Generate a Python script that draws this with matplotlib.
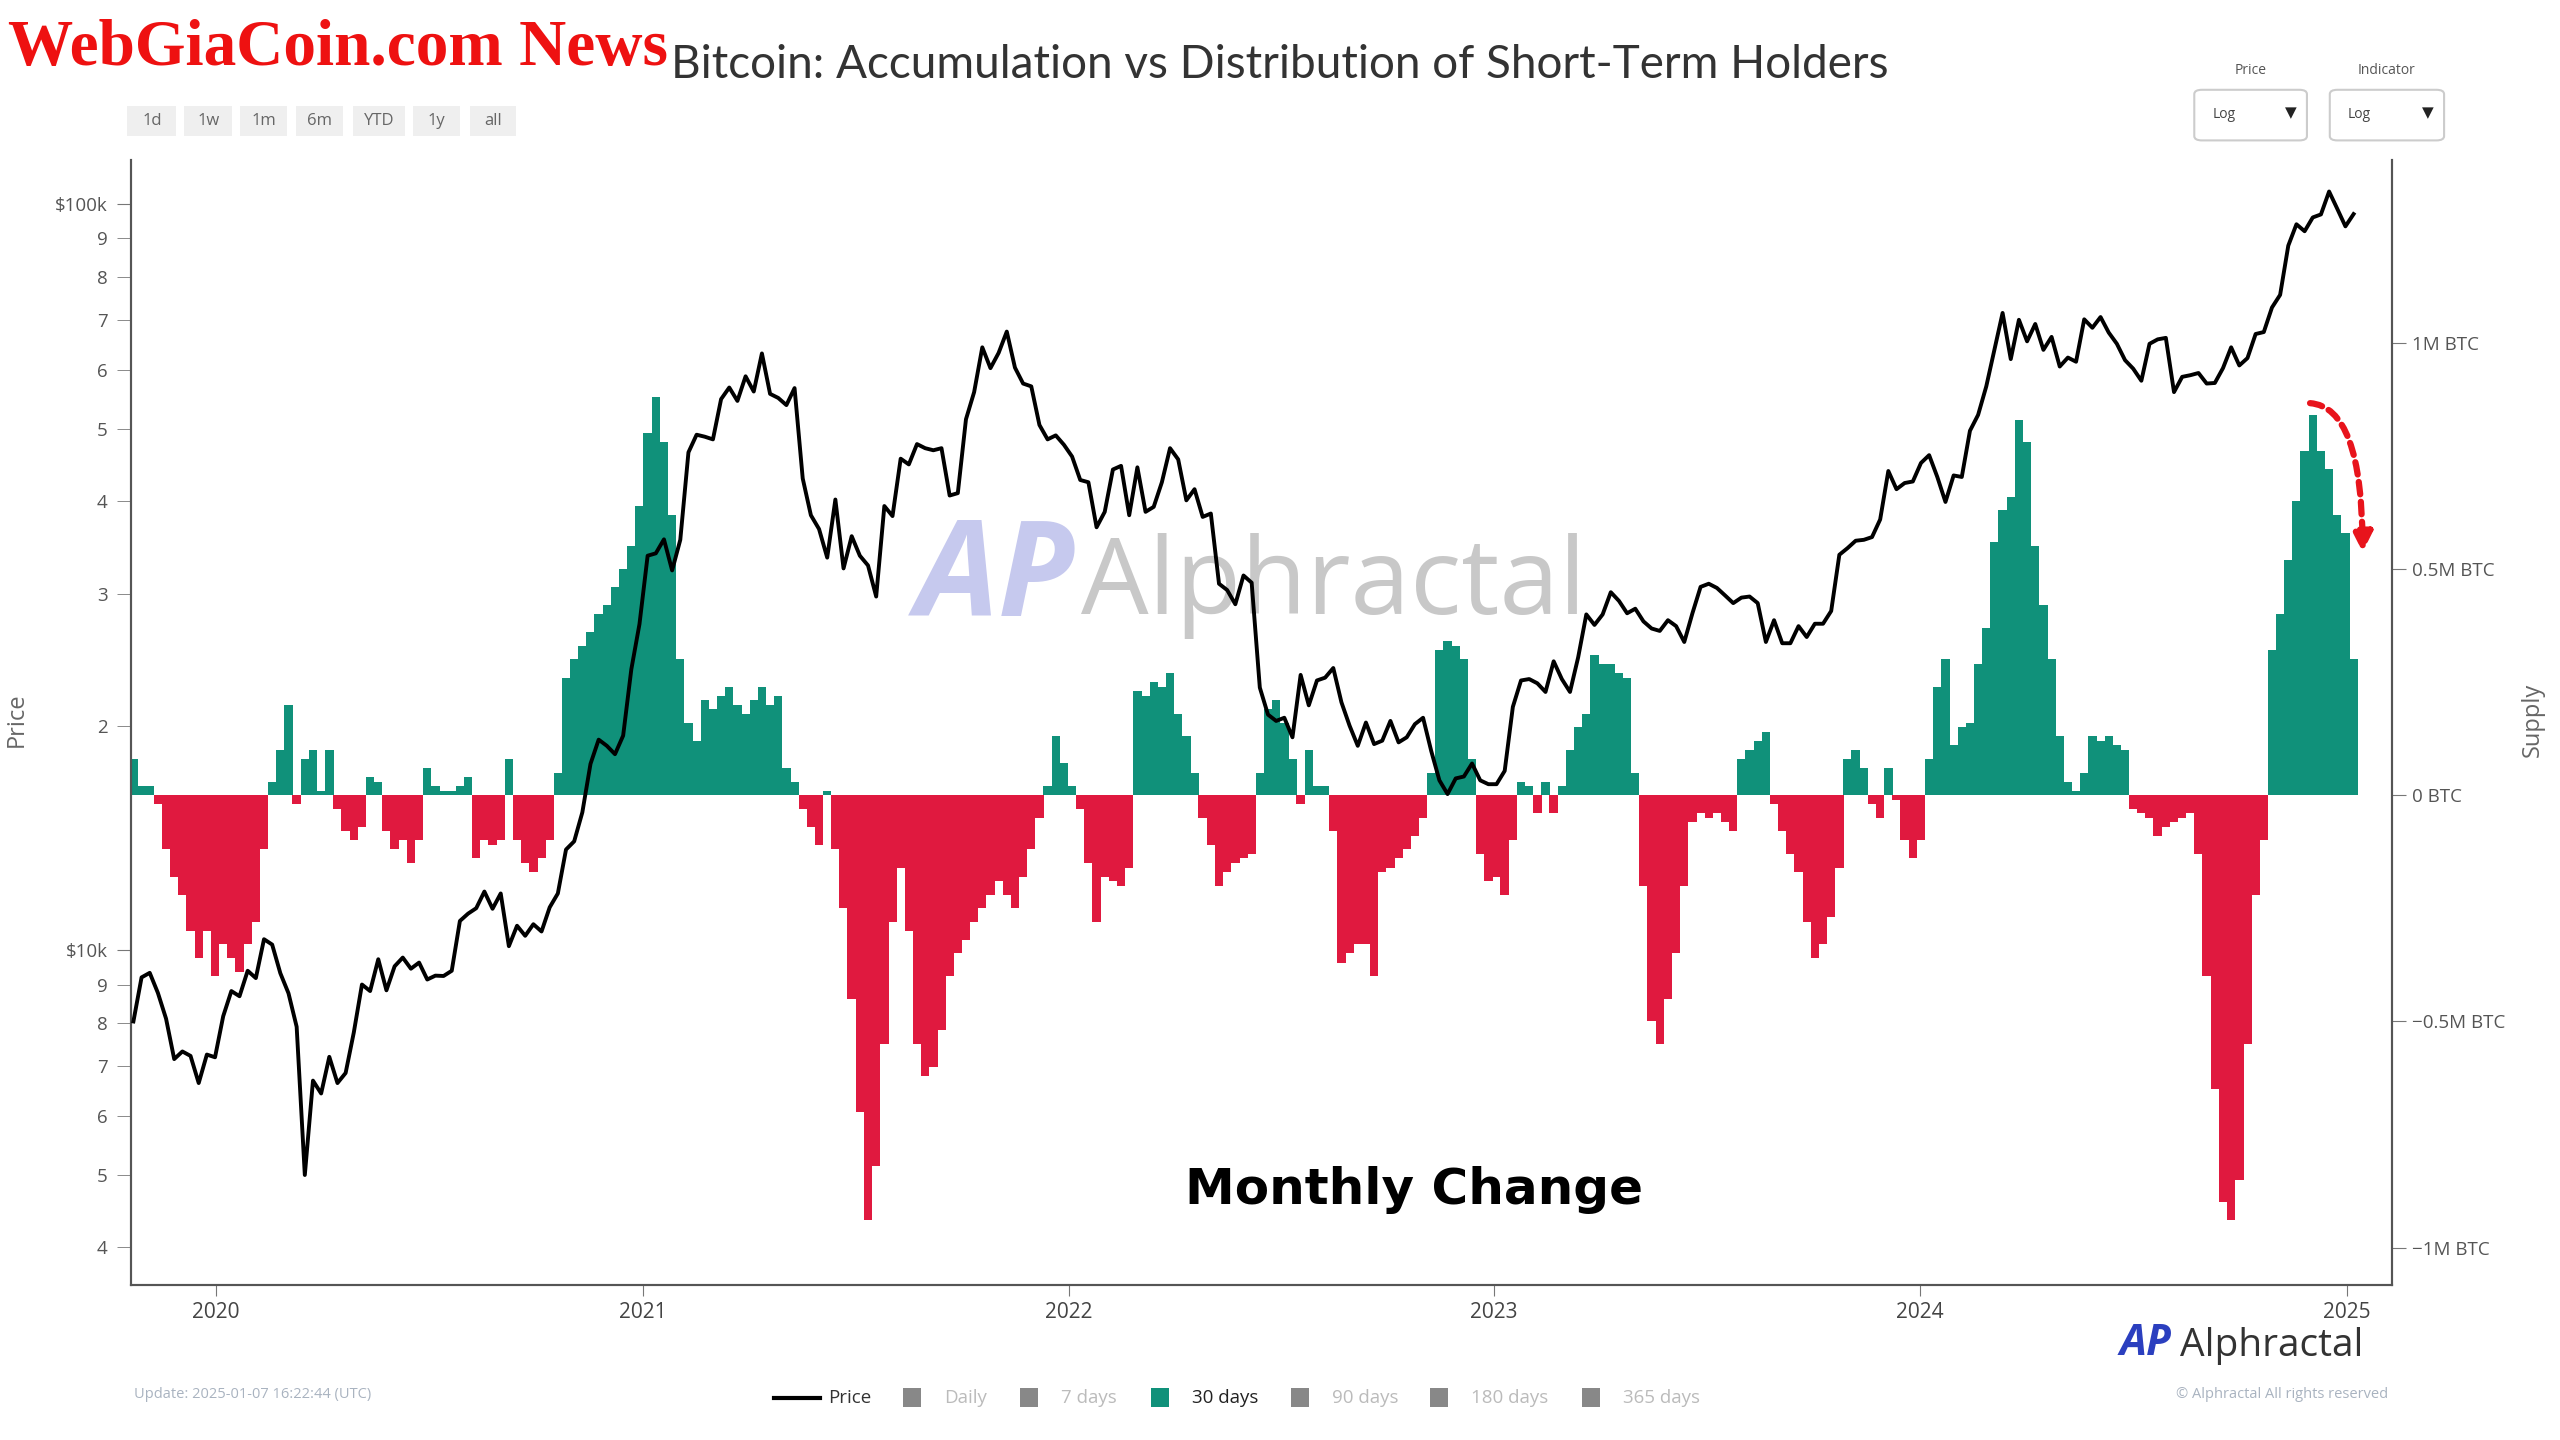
import matplotlib.pyplot as plt
from matplotlib.patches import Rectangle, FancyBboxPatch, FancyArrowPatch
from matplotlib.lines import Line2D
import numpy as np
import pandas as pd

plt.rcParams['font.family'] = ['Open Sans', 'DejaVu Sans']

# weekly samples starting 2019-10-22
start_date = "2019-10-22"

# 30-day change of short-term holder supply, million BTC
sth_change_m = [
    0.08, 0.02, 0.02, -0.02, -0.12, -0.18, -0.22, -0.30, -0.36, -0.30, -0.40,
    -0.33, -0.36, -0.39, -0.33, -0.28, -0.12, 0.03, 0.10, 0.20, -0.02,
    0.08, 0.10, 0.01, 0.10, -0.03, -0.08, -0.10, -0.07, 0.04, 0.03,
    -0.08, -0.12, -0.10, -0.15, -0.10, 0.06, 0.02, 0.01, 0.01, 0.02,
    0.04, -0.14, -0.10, -0.11, -0.10, 0.08, -0.10, -0.15, -0.17, -0.14,
    -0.10, 0.05, 0.26, 0.30, 0.33, 0.36, 0.40, 0.42, 0.46, 0.50,
    0.55, 0.64, 0.80, 0.88, 0.78, 0.62, 0.30, 0.16, 0.12, 0.21,
    0.19, 0.22, 0.24, 0.20, 0.18, 0.21, 0.24, 0.20, 0.22, 0.06,
    0.03, -0.03, -0.07, -0.11, 0.01, -0.12, -0.25, -0.45, -0.70, -0.94,
    -0.82, -0.55, -0.28, -0.16, -0.30, -0.55, -0.62, -0.60, -0.52, -0.40,
    -0.35, -0.32, -0.28, -0.25, -0.22, -0.19, -0.22, -0.25, -0.18, -0.12,
    -0.05, 0.02, 0.13, 0.07, 0.02, -0.03, -0.15, -0.28, -0.18, -0.19,
    -0.20, -0.16, 0.23, 0.22, 0.25, 0.24, 0.27, 0.18, 0.13, 0.05,
    -0.05, -0.11, -0.20, -0.17, -0.15, -0.14, -0.13, 0.05, 0.19, 0.21,
    0.16, 0.08, -0.02, 0.10, 0.02, 0.02, -0.08, -0.37, -0.35, -0.33,
    -0.33, -0.40, -0.17, -0.16, -0.14, -0.12, -0.09, -0.05, 0.05, 0.32,
    0.34, 0.33, 0.30, 0.08, -0.13, -0.19, -0.18, -0.22, -0.10, 0.03,
    0.02, -0.04, 0.03, -0.04, 0.02, 0.10, 0.15, 0.18, 0.31, 0.29,
    0.29, 0.27, 0.26, 0.05, -0.20, -0.50, -0.55, -0.45, -0.35, -0.20,
    -0.06, -0.04, -0.05, -0.04, -0.06, -0.08, 0.08, 0.10, 0.12, 0.14,
    -0.02, -0.08, -0.13, -0.17, -0.28, -0.36, -0.33, -0.27, -0.16, 0.08,
    0.10, 0.06, -0.02, -0.05, 0.06, -0.01, -0.10, -0.14, -0.10, 0.08,
    0.24, 0.30, 0.11, 0.15, 0.16, 0.29, 0.37, 0.56, 0.63, 0.66,
    0.83, 0.78, 0.55, 0.42, 0.30, 0.13, 0.03, 0.01, 0.05, 0.13,
    0.12, 0.13, 0.11, 0.10, -0.03, -0.04, -0.05, -0.09, -0.07, -0.06,
    -0.05, -0.04, -0.13, -0.40, -0.65, -0.90, -0.94, -0.85, -0.55, -0.22,
    -0.10, 0.32, 0.40, 0.52, 0.65, 0.76, 0.84, 0.76, 0.72, 0.62, 0.58, 0.30,
]

# BTC price, USD, same weekly dates
btc_price = [
    8030, 9200, 9330, 8770, 8100, 7150, 7320, 7220, 6640, 7250, 7190,
    8160, 8820, 8680, 9390, 9180, 10350, 10180, 9320, 8760, 7900,
    5000, 6690, 6430, 7200, 6640, 6850, 7760, 9000, 8820, 9730,
    8840, 9520, 9780, 9450, 9630, 9140, 9250, 9240, 9390, 10950,
    11200, 11390, 11990, 11370, 11920, 10130, 10790, 10460, 10840, 10600,
    11420, 11920, 13650, 14000, 15310, 17780, 19160, 18800, 18320, 19400,
    23800, 27370, 33800, 34050, 35550, 32300, 35500, 46500, 49100, 48800,
    48400, 54800, 56800, 54500, 58800, 56100, 63100, 55700, 55000, 53800,
    56700, 42900, 38300, 36700, 33600, 40200, 32500, 35900, 33800, 32800,
    29800, 39400, 38200, 45600, 44800, 47700, 47100, 46800, 47100, 40700,
    41000, 51500, 56000, 64300, 60300, 63200, 67500, 60400, 57500, 57000,
    50600, 48400, 49000, 47600, 45900, 42700, 42400, 36900, 38700, 44100,
    44600, 38300, 44400, 38700, 39300, 42400, 47100, 45500, 40100, 41500,
    38100, 38500, 31000, 30400, 29100, 31800, 31100, 22500, 20700, 20300,
    20500, 19300, 23400, 21300, 23000, 23200, 23900, 21500, 20000, 18800,
    20200, 18900, 19100, 20300, 19000, 19300, 20100, 20500, 18500, 16900,
    16200, 17000, 17100, 17800, 16900, 16700, 16700, 17400, 21200, 23000,
    23100, 22800, 22200, 24400, 23100, 22200, 24700, 28200, 27300, 28200,
    30200, 29400, 28300, 28700, 27600, 27000, 26800, 27700, 27200, 25900,
    28300, 30700, 31000, 30600, 29900, 29200, 29700, 29800, 29200, 25900,
    27700, 25800, 25800, 27200, 26300, 27400, 27400, 28500, 33900, 34600,
    35400, 35500, 35800, 37800, 43900, 41500, 42300, 42500, 45000, 46100,
    43100, 39900, 43300, 43100, 49700, 52200, 57000, 63800, 71500, 62000,
    70000, 65500, 69100, 63800, 66400, 60600, 62300, 61500, 70100, 68300,
    70600, 67300, 65000, 61800, 60200, 58000, 65000, 65900, 66200, 56000,
    58700, 59000, 59400, 57500, 57600, 60300, 64300, 60800, 62200, 67000,
    67400, 72700, 75600, 88000, 94000, 92000, 96000, 96900, 104000, 98600, 93400, 97000,
]

year_ticks = ["2020-01-01", "2021-01-01", "2022-01-01", "2023-01-01", "2024-01-01", "2025-01-01"]
year_labels = ["2020", "2021", "2022", "2023", "2024", "2025"]
supply_ticks = [-1, -0.5, 0, 0.5, 1]
supply_labels = ["\u22121M BTC", "\u22120.5M BTC", "0 BTC", "0.5M BTC", "1M BTC"]
price_major = [10000, 100000]
price_major_labels = ["$10k", "$100k"]
price_minor = [4000, 5000, 6000, 7000, 8000, 9000,
               20000, 30000, 40000, 50000, 60000, 70000, 80000, 90000]
price_minor_labels = ["4", "5", "6", "7", "8", "9",
                      "2", "3", "4", "5", "6", "7", "8", "9"]

GREEN = "#10917a"
RED = "#e0193f"

dates_sth = pd.date_range(start_date, periods=len(sth_change_m), freq="7D")
dates_px = pd.date_range(start_date, periods=len(btc_price), freq="7D")
vals = np.array(sth_change_m)

fig = plt.figure(figsize=(25.6, 14.4), dpi=100)
ax = fig.add_axes([0.0512, 0.1076, 0.8832, 0.78125])
ax.bar(dates_sth, vals, width=7.2, color=np.where(vals >= 0, GREEN, RED), linewidth=0, zorder=2)
ax.set_ylim(-1.083, 1.404)
ax.set_xlim(pd.Timestamp("2019-10-20"), pd.Timestamp("2025-02-09"))
ax.set_xticks(pd.to_datetime(year_ticks), year_labels)

axp = ax.twinx()
axp.plot(dates_px, btc_price, color="black", lw=2.8, zorder=3)
axp.set_yscale("log")
axp.set_ylim(3560, 114600)
axp.set_yticks(price_major, price_major_labels)
axp.set_yticks(price_minor, price_minor_labels, minor=True)
axp.yaxis.set_ticks_position("left")
axp.yaxis.set_label_position("left")

# supply axis on the right (twinx moved it to the left)
ax.yaxis.set_ticks_position("right")
ax.yaxis.set_label_position("right")
ax.set_yticks(supply_ticks, supply_labels)

for a in (ax, axp):
    a.spines["top"].set_visible(False)
    for s in ("left", "right", "bottom"):
        a.spines[s].set_color("#555555")
        a.spines[s].set_linewidth(1.5)
ax.tick_params(axis="y", which="both", length=10, color="#777777", labelsize=13.5, labelcolor="#555555", pad=4)
axp.tick_params(axis="y", which="both", length=10, color="#777777", labelsize=13.5, labelcolor="#555555", pad=7)
ax.tick_params(axis="x", length=8, color="#777777", labelsize=15, labelcolor="#444444", pad=4)

fig.text(0.0064, 0.50, "Price", rotation=90, ha="center", va="center", fontsize=17, color="#666666")
fig.text(0.9895, 0.50, "Supply", rotation=90, ha="center", va="center", fontsize=17, color="#666666")

# watermark in the middle
ax.text(0.389, 0.596, "AP", transform=fig.transFigure, fontsize=95, fontweight="bold", fontstyle="italic",
        color="#c6c9ee", ha="center", va="center", zorder=0)
ax.text(0.4222, 0.593, "Alphractal", transform=fig.transFigure, fontsize=77, color="#c8c8c8",
        ha="left", va="center", zorder=0)

fig.text(0.5523, 0.1735, "Monthly Change", fontsize=36, fontweight="bold", color="black",
         ha="center", va="center", family=["DejaVu Sans"])

# dashed red arrow near the last peak
axp.add_patch(FancyArrowPatch((0.9625, 0.784), (0.987, 0.649), transform=axp.transAxes,
                              connectionstyle="angle3,angleA=0,angleB=90", arrowstyle="-|>",
                              mutation_scale=28, lw=4.5, linestyle=(0, (2, 1.2)), color="#e8141c", zorder=5))

# header texts
fig.text(0.0032, 0.966, "WebGiaCoin.com News", fontsize=47, fontweight="bold", color="#ee1111",
         ha="left", va="center", family=["Liberation Serif"])
fig.text(0.262, 0.9546, "Bitcoin: Accumulation vs Distribution of Short-Term Holders", fontsize=33,
         color="#333333", ha="left", va="center", family=["Lato", "DejaVu Sans"])

btn_labels = ["1d", "1w", "1m", "6m", "YTD", "1y", "all"]
btn_left = [78, 113, 147, 181, 216, 253, 288]
btn_right = [108, 142, 176, 210, 248, 282, 316]
for lab, l, r in zip(btn_labels, btn_left, btn_right):
    fig.add_artist(Rectangle((l / 1568, 1 - 83 / 882), (r - l) / 1568, 18 / 882,
                             transform=fig.transFigure, facecolor="#efefef", edgecolor="none"))
    fig.text((l + r) / 2 / 1568, 1 - 74 / 882, lab, fontsize=12, color="#666666", ha="center", va="center")

dd_titles = ["Price", "Indicator"]
dd_left = [1344, 1427]
dd_right = [1413, 1497]
for t, l, r in zip(dd_titles, dd_left, dd_right):
    fig.text((l + r) / 2 / 1568, 1 - 43 / 882, t, fontsize=10, color="#555555", ha="center", va="center")
    fig.add_artist(FancyBboxPatch((l / 1568, 1 - 86 / 882), (r - l) / 1568, 31 / 882,
                                  boxstyle="round,pad=0,rounding_size=0.003", transform=fig.transFigure,
                                  facecolor="white", edgecolor="#cccccc", lw=1.5))
    fig.text((l + 11) / 1568, 1 - 70 / 882, "Log", fontsize=10, color="#444444", ha="left", va="center")
    fig.text((r - 10) / 1568, 1 - 69 / 882, "\u25bc", fontsize=11, color="#222222", ha="center", va="center",
             family=["DejaVu Sans"])

# bottom logo
fig.text(0.838, 0.067, "AP", fontsize=31, fontweight="bold", fontstyle="italic", color="#2b3fbf",
         ha="center", va="center")
fig.text(0.8514, 0.0655, "Alphractal", fontsize=28, color="#333333", ha="left", va="center")

# legend row
fy = 1 - 856 / 882
fig.add_artist(Line2D([474 / 1568, 502 / 1568], [fy, fy], transform=fig.transFigure, color="black", lw=3))
fig.text(507 / 1568, fy, "Price", fontsize=13.5, color="#333333", ha="left", va="center")
leg_labels = ["Daily", "7 days", "30 days", "90 days", "180 days", "365 days"]
leg_sq_x = [553, 625, 705, 791, 876, 969]
leg_active = [False, False, True, False, False, False]
for lab, x, act in zip(leg_labels, leg_sq_x, leg_active):
    fig.add_artist(Rectangle((x / 1568, fy - 6 / 882), 11 / 1568, 12 / 882, transform=fig.transFigure,
                             facecolor=GREEN if act else "#888888", edgecolor="none"))
    fig.text((x + 25) / 1568, fy, lab, fontsize=13.5, color="#222222" if act else "#bbbbbb",
             ha="left", va="center")

fig.text(82 / 1568, 1 - 854 / 882, "Update: 2025-01-07 16:22:44 (UTC)", fontsize=10.5, color="#a9b3c0",
         ha="left", va="center")
fig.text(1463 / 1568, 1 - 854 / 882, "\u00a9 Alphractal All rights reserved", fontsize=10.5, color="#a9b3c0",
         ha="right", va="center")

fig.savefig("out.png", dpi=100, facecolor="white")
